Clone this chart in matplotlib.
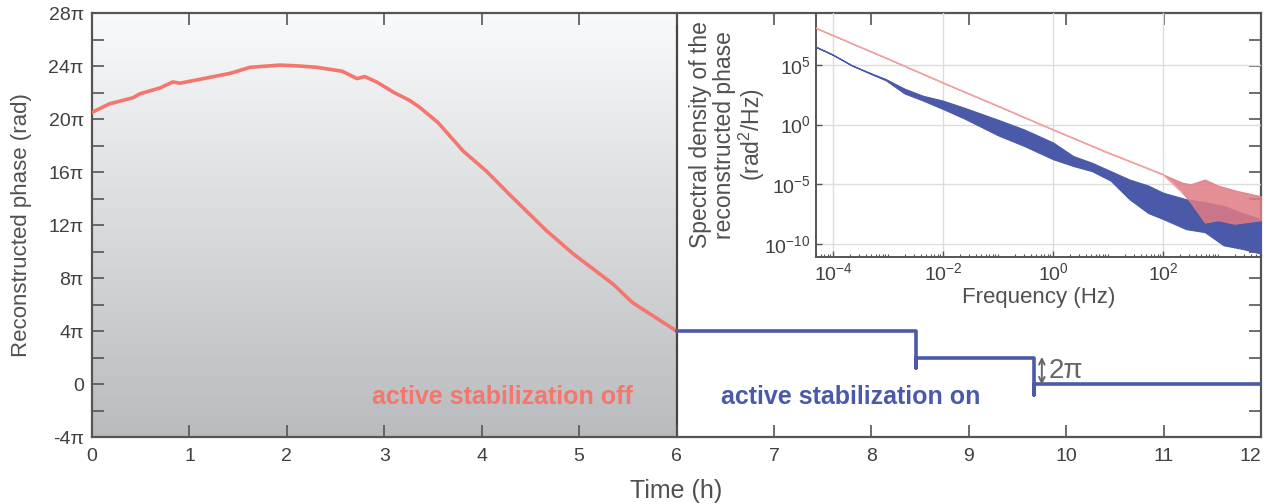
import numpy as np
import matplotlib
matplotlib.use('Agg')
import matplotlib.pyplot as plt
from matplotlib.colors import LinearSegmentedColormap
from matplotlib.ticker import LogLocator, NullLocator, NullFormatter

plt.rcParams['font.family'] = ['Liberation Sans', 'DejaVu Sans']
plt.rcParams['mathtext.fontset'] = 'custom'
plt.rcParams['mathtext.rm'] = 'Liberation Sans'
plt.rcParams['mathtext.default'] = 'regular'
plt.rcParams['axes.unicode_minus'] = False

# phase without stabilization (hours, units of pi)
t_off = [0.0, 0.18, 0.42, 0.49, 0.70, 0.83, 0.90, 1.11, 1.42, 1.62, 1.93, 2.13,
         2.31, 2.57, 2.72, 2.80, 2.92, 3.10, 3.26, 3.36, 3.55, 3.81, 4.05, 4.29,
         4.66, 4.94, 5.35, 5.55, 6.0]
phi_off = [20.5, 21.15, 21.6, 21.9, 22.35, 22.8, 22.7, 23.0, 23.45, 23.9, 24.07, 24.0,
           23.9, 23.6, 23.05, 23.2, 22.8, 22.0, 21.4, 20.9, 19.74, 17.58, 16.05, 14.27,
           11.6, 9.82, 7.53, 6.13, 4.0]

# phase with stabilization (hours, units of pi)
t_on = [6.0, 8.46, 8.46, 8.46, 9.67, 9.67, 9.67, 12.0]
phi_on = [4.0, 4.0, 1.2, 2.0, 2.0, -0.8, 0.0, 0.0]

# spectral density, log10 values
lf_blue = [-4.33, -4.0, -3.66, -3.32, -3.04, -2.70, -2.36, -2.0, -1.61, -1.0, -0.52, 0.0,
           0.37, 0.71, 1.05, 1.39, 1.73, 2.0, 2.42, 2.76, 3.10, 3.44, 3.78]
blue_lo = [6.53, 5.83, 4.95, 4.25, 3.70, 2.6, 2.0, 1.3, 0.5, -0.9, -1.8, -2.9,
           -3.47, -3.9, -4.7, -6.25, -7.4, -7.9, -8.75, -9.0, -10.1, -10.4, -10.8]
blue_hi = [6.53, 5.83, 4.95, 4.30, 3.80, 3.0, 2.4, 2.0, 1.4, 0.4, -0.42, -1.5,
           -2.64, -3.2, -3.9, -4.6, -5.1, -5.7, -6.25, -6.5, -6.8, -7.4, -7.9]

lf_red = [-4.33, -3.0, -2.0, -1.0, 0.0, 1.0, 2.0, 2.35, 2.5, 2.76, 3.0, 3.3, 3.78]
red_lo = [8.11, 5.5, 3.5, 1.55, -0.42, -2.35, -4.17, -5.7, -6.5, -8.2, -8.0, -8.3, -8.0]
red_hi = [8.11, 5.5, 3.5, 1.55, -0.42, -2.35, -4.17, -4.86, -5.0, -4.6, -5.1, -5.5, -6.0]

red = '#f4766c'
blue = '#4a5aa8'
grey = '#555555'
txt = '#404040'

fig = plt.figure(figsize=(12.68, 5.04), dpi=100)
ax = fig.add_axes([0.0726, 0.1329, 0.9219, 0.8413])

# shaded background while stabilization is off
cm = LinearSegmentedColormap.from_list('bg', ['#b9bbbe', '#f9fafb'])
grad = np.linspace(0, 1, 256).reshape(-1, 1)
ax.imshow(grad, extent=[0, 6, -4 * np.pi, 28 * np.pi], aspect='auto', cmap=cm,
          origin='lower', zorder=0)
ax.axvline(6, color='#444444', lw=1.6, zorder=1)

ax.plot(t_off, np.array(phi_off) * np.pi, color=red, lw=2.6, zorder=3)
ax.plot(t_on, np.array(phi_on) * np.pi, color=blue, lw=2.6, zorder=3)

ax.set_xlim(0, 12)
ax.set_ylim(-4 * np.pi, 28 * np.pi)
ax.set_xticks(range(13))
yt = np.arange(-4, 29, 4)
ax.set_yticks(yt * np.pi, labels=['0' if v == 0 else '%dπ' % v for v in yt])
ax.set_yticks(np.arange(-4, 29, 2) * np.pi, minor=True)
ax.tick_params(which='both', direction='in', length=8.6, width=1.2, color=grey,
               top=True, right=True, labelsize=14, labelcolor=txt, pad=6)
ax.tick_params(axis='x', pad=8)
ax.get_xticklabels()[-1].set_horizontalalignment('right')
for s in ax.spines.values():
    s.set_color(grey)
    s.set_linewidth(1.6)
ax.set_xlabel('Time (h)', fontsize=18, color='#505050', labelpad=10)
ax.set_ylabel('Reconstructed phase (rad)', fontsize=16, color='#505050', labelpad=12)

ax.text(5.55, -1.0 * np.pi, 'active stabilization off', color=red, fontsize=18,
        fontweight='bold', ha='right', va='center')
ax.text(6.46, -1.0 * np.pi, 'active stabilization on', color=blue, fontsize=18,
        fontweight='bold', ha='left', va='center')
ax.annotate('', xy=(9.75, -0.05 * np.pi), xytext=(9.75, 2.05 * np.pi),
            arrowprops=dict(arrowstyle='<->', color='#666666', lw=1.4,
                            shrinkA=0, shrinkB=0, mutation_scale=10))
ax.text(9.82, 1.0 * np.pi, '2π', color='#666666', fontsize=20, ha='left', va='center')

# inset: spectral density
ins = fig.add_axes([0.6435, 0.4901, 0.3509, 0.4841])
ins.set_facecolor('none')
ins.set_xscale('log')
ins.set_yscale('log')
fb = 10.0 ** np.array(lf_blue)
ins.fill_between(fb, 10.0 ** np.array(blue_lo), 10.0 ** np.array(blue_hi),
                 color=blue, lw=0.8, zorder=2)
ins.plot(fb, 10.0 ** ((np.array(blue_lo) + np.array(blue_hi)) / 2), color=blue,
         lw=0.8, zorder=2)
fr = 10.0 ** np.array(lf_red)
ins.fill_between(fr, 10.0 ** np.array(red_lo), 10.0 ** np.array(red_hi),
                 color='#e07c84', alpha=0.85, lw=0.8, zorder=3)
ins.plot(fr[:8], 10.0 ** np.array(red_lo[:8]), color='#f6a8a2', lw=1.0, zorder=3)

ins.set_xlim(10 ** -4.31, 10 ** 3.78)
ins.set_ylim(10 ** -11.08, 10 ** 9.33)
ins.set_xticks([1e-4, 1e-2, 1, 1e2])
ins.xaxis.set_minor_locator(LogLocator(base=10, subs=np.arange(1, 10), numticks=100))
ins.xaxis.set_minor_formatter(NullFormatter())
ins.set_yticks([1e-10, 1e-5, 1, 1e5])
ins.yaxis.set_minor_locator(NullLocator())
ins.grid(True, which='major', color='#dddddd', lw=1.0, zorder=0)
ins.tick_params(which='major', direction='in', length=4, width=1.0, color=grey,
                labelsize=14, labelcolor=txt, pad=4)
ins.tick_params(which='minor', direction='in', length=2.5, width=0.8, color=grey)
ins.spines['top'].set_visible(False)
ins.spines['right'].set_visible(False)
for s in ['left', 'bottom']:
    ins.spines[s].set_color(grey)
    ins.spines[s].set_linewidth(1.4)
ins.set_xlabel('Frequency (Hz)', fontsize=16, color='#505050', labelpad=2)
ins.set_ylabel('Spectral density of the\nreconstructed phase\n(rad$^2$/Hz)',
               fontsize=16.5, color='#505050', linespacing=1.05)
ins.yaxis.set_label_coords(-0.11, 0.5)

fig.savefig('out.png', dpi=100)
